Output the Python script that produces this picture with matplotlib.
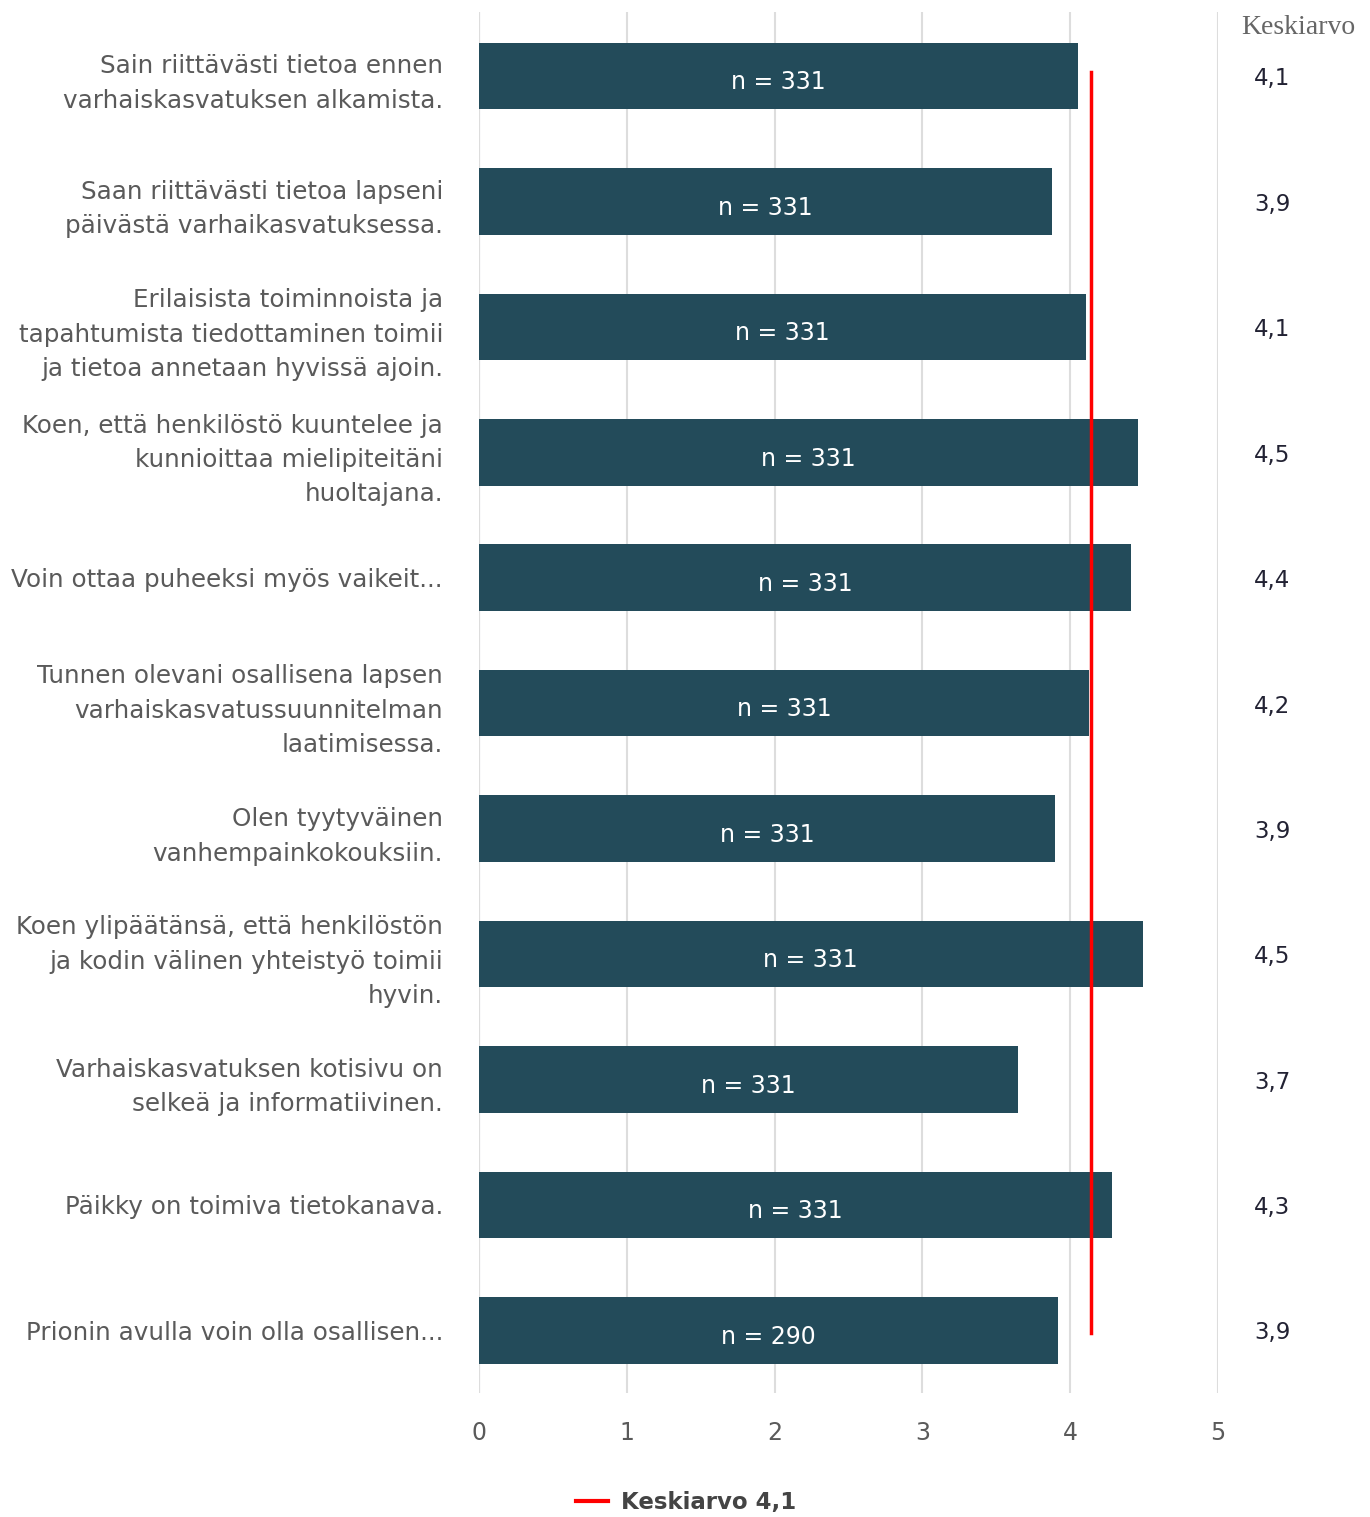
import numpy as np
from matplotlib import pyplot as plt

plt.rcParams['font.family'] = ['DejaVu Sans']

questions = [
    "Sain riittävästi tietoa ennen\nvarhaiskasvatuksen alkamista.",
    "Saan riittävästi tietoa lapseni\npäivästä varhaikasvatuksessa.",
    "Erilaisista toiminnoista ja\ntapahtumista tiedottaminen toimii\nja tietoa annetaan hyvissä ajoin.",
    "Koen, että henkilöstö kuuntelee ja\nkunnioittaa mielipiteitäni\nhuoltajana.",
    "Voin ottaa puheeksi myös vaikeit...",
    "Tunnen olevani osallisena lapsen\nvarhaiskasvatussuunnitelman\nlaatimisessa.",
    "Olen tyytyväinen\nvanhempainkokouksiin.",
    "Koen ylipäätänsä, että henkilöstön\nja kodin välinen yhteistyö toimii\nhyvin.",
    "Varhaiskasvatuksen kotisivu on\nselkeä ja informatiivinen.",
    "Päikky on toimiva tietokanava.",
    "Prionin avulla voin olla osallisen...",
]
values = [4.05, 3.88, 4.11, 4.46, 4.41, 4.13, 3.90, 4.49, 3.65, 4.28, 3.92]
n_resp = [331, 331, 331, 331, 331, 331, 331, 331, 331, 331, 290]
means_txt = ["4,1", "3,9", "4,1", "4,5", "4,4", "4,2", "3,9", "4,5", "3,7", "4,3", "3,9"]
overall = 4.14

bar_color = "#234b5a"
text_gray = "#5a5a5a"

fig = plt.figure(figsize=(13.7, 15.17), dpi=100)
ax = fig.add_axes([479 / 1370, 1 - 1393 / 1517, (1218 - 479) / 1370, (1393 - 12) / 1517])

y = np.arange(len(values))
ax.barh(y, values, height=0.53, color=bar_color, zorder=3)
for yi, v, n in zip(y, values, n_resp):
    ax.text(v / 2, yi + 0.05, f"n = {n}", color="white", ha="center", va="center",
            fontsize=17, zorder=4)

ax.plot([overall, overall], [-0.03, 10.02], color="#ff0000", lw=2.5, zorder=5)

ax.set_xlim(0, 5)
ax.set_ylim(10.5, -0.51)
ax.set_xticks(range(6))
ax.grid(axis="x", color="#dddddd", lw=1.5, zorder=0)
ax.axvline(0, color="#c8d0e0", lw=1.5, zorder=1)
for s in ax.spines.values():
    s.set_visible(False)
ax.tick_params(axis="x", length=0, pad=20, labelsize=17, labelcolor=text_gray)
ax.tick_params(axis="y", length=0, pad=26, labelsize=17.7, labelcolor=text_gray)
ax.set_yticks(y)
ax.set_yticklabels(questions, ha="right", linespacing=1.55)

fig.text(1298 / 1370, 1 - 28 / 1517, "Keskiarvo", family="Liberation Serif",
         fontsize=20, color="#666666", ha="center", va="center")
for yi, t in zip(y, means_txt):
    fig.text(1272 / 1370, 1 - (79 + yi * 125.4) / 1517, t, fontsize=16.5,
             color="#222233", ha="center", va="center")

leg = fig.legend([plt.Line2D([], [], color="#ff0000", lw=3)], [f"Keskiarvo {overall:.1f}".replace(".", ",")],
                 loc="center", bbox_to_anchor=(686 / 1370, 1 - 1503 / 1517), frameon=False,
                 prop={"size": 16.5, "weight": "bold"}, handlelength=1.4, handletextpad=0.55)
for t in leg.get_texts():
    t.set_color("#444444")

fig.savefig("out.png", dpi=100)
